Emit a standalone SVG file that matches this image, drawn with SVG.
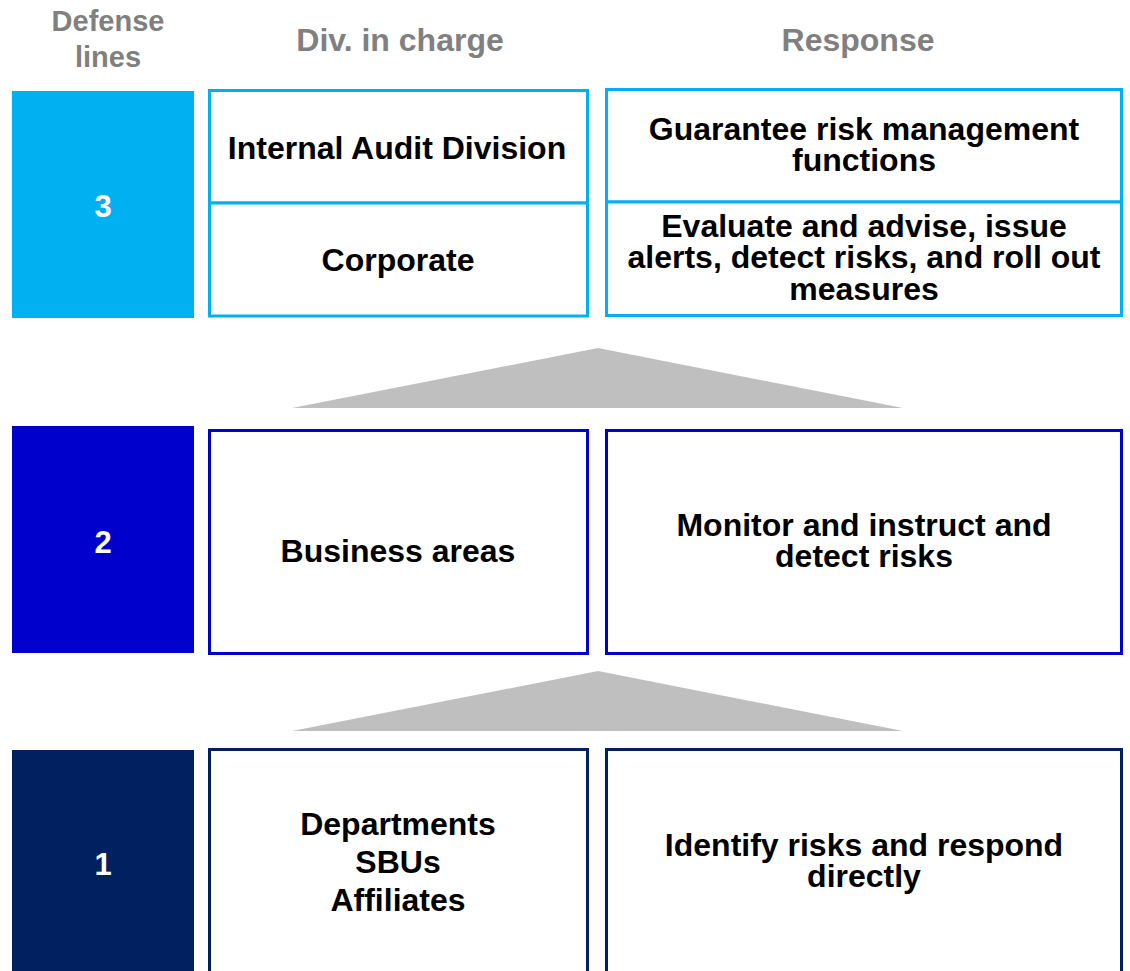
<svg xmlns="http://www.w3.org/2000/svg" width="1130" height="971" viewBox="0 0 1130 971">
<style>
.hdr{font-family:"Liberation Sans",Arial,sans-serif;font-weight:bold;fill:#808080;text-anchor:middle}
.t{font-family:"Liberation Sans",Arial,sans-serif;font-weight:bold;font-size:32px;fill:#000;text-anchor:middle}
.num{font-family:"Liberation Sans",Arial,sans-serif;font-weight:bold;font-size:31px;fill:#fff;text-anchor:middle}
.b3{fill:#fff;stroke:#00B0F0;stroke-width:3}
.b2{fill:#fff;stroke:#0000CC;stroke-width:3}
.b1{fill:#fff;stroke:#002060;stroke-width:3}
.tri{fill:#BFBFBF}
</style>
<rect width="1130" height="971" fill="#fff"/>
<g id="headers">
<text class="hdr" x="108" y="31" font-size="29"><tspan x="108" y="31">Defense</tspan><tspan x="108" y="67">lines</tspan></text>
<text class="hdr" x="400" y="51" font-size="32">Div. in charge</text>
<text class="hdr" x="858" y="51" font-size="32">Response</text>
</g>
<g id="connectors">
<polygon class="tri" points="292,408 598,348 903,408"/>
<polygon class="tri" points="292,731 598,671 903,731"/>
</g>
<g id="line3">
<rect x="12" y="91" width="182" height="227" fill="#00B0F0"/>
<text class="num" x="103" y="217">3</text>
</g>
<g id="internal-audit">
<rect class="b3" x="209.5" y="90.5" width="378" height="112.5"/>
<text class="t" x="397" y="159">Internal Audit Division</text>
</g>
<g id="corporate">
<rect class="b3" x="209.5" y="203" width="378" height="113"/>
<text class="t" x="398" y="271">Corporate</text>
</g>
<g id="guarantee">
<rect class="b3" x="606.5" y="89.5" width="515" height="112.5"/>
<text class="t"><tspan x="864" y="140">Guarantee risk management</tspan><tspan x="864" y="171">functions</tspan></text>
</g>
<g id="evaluate">
<rect class="b3" x="606.5" y="202" width="515" height="113.5"/>
<text class="t"><tspan x="864" y="237">Evaluate and advise, issue</tspan><tspan x="864" y="268">alerts, detect risks, and roll out</tspan><tspan x="864" y="300">measures</tspan></text>
</g>
<g id="line2">
<rect x="12" y="426" width="182" height="227" fill="#0000CC"/>
<text class="num" x="103" y="553">2</text>
</g>
<g id="business-areas">
<rect class="b2" x="209.5" y="430.5" width="378" height="223"/>
<text class="t" x="398" y="562">Business areas</text>
</g>
<g id="monitor">
<rect class="b2" x="606.5" y="430.5" width="515" height="223"/>
<text class="t"><tspan x="864" y="536">Monitor and instruct and</tspan><tspan x="864" y="567">detect risks</tspan></text>
</g>
<g id="line1">
<rect x="12" y="750" width="182" height="240" fill="#002060"/>
<text class="num" x="103" y="875">1</text>
</g>
<g id="departments">
<rect class="b1" x="209.5" y="749.5" width="378" height="260"/>
<text class="t"><tspan x="398" y="835">Departments</tspan><tspan x="398" y="873">SBUs</tspan><tspan x="398" y="911">Affiliates</tspan></text>
</g>
<g id="identify">
<rect class="b1" x="606.5" y="749.5" width="515" height="260"/>
<text class="t"><tspan x="864" y="856">Identify risks and respond</tspan><tspan x="864" y="887">directly</tspan></text>
</g>
</svg>
